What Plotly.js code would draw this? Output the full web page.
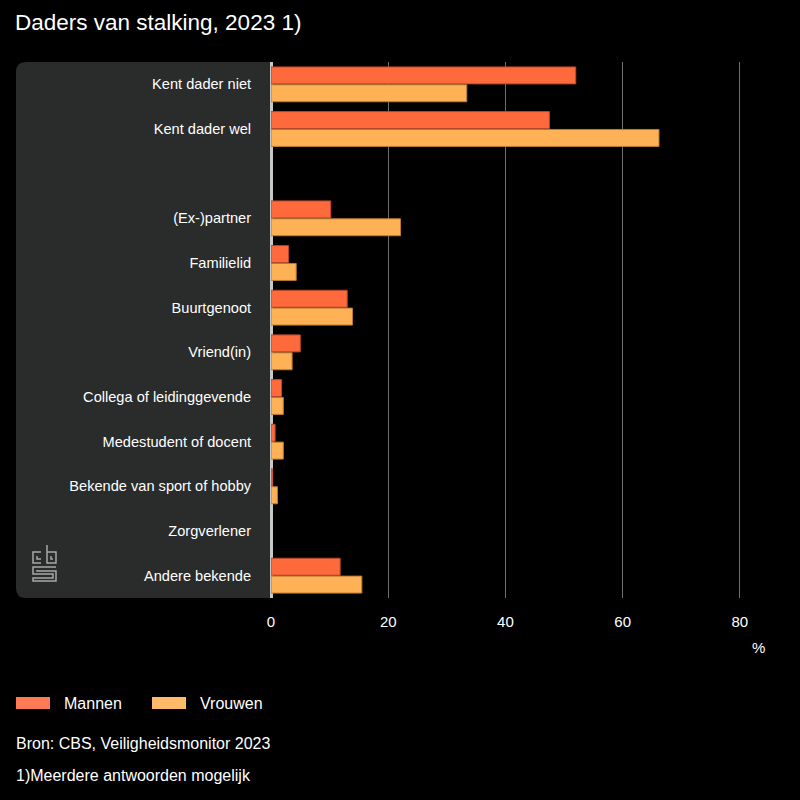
<!DOCTYPE html>
<html><head><meta charset="utf-8">
<script src="https://cdn.plot.ly/plotly-3.0.1.min.js"></script>
<style>html,body{margin:0;padding:0;background:#000;}</style>
</head><body>
<div id="chart" style="width:800px;height:800px;"></div>
<script>
const categories = ["Kent dader niet","Kent dader wel"," ","(Ex-)partner","Familielid","Buurtgenoot","Vriend(in)","Collega of leidinggevende","Medestudent of docent","Bekende van sport of hobby","Zorgverlener","Andere bekende"];
const mannen = [52.0, 47.5, null, 10.2, 3.0, 13.0, 5.0, 1.8, 0.7, 0.3, 0, 11.8];
const vrouwen = [33.4, 66.2, null, 22.1, 4.3, 13.9, 3.6, 2.1, 2.1, 1.1, 0, 15.5];
const seriesNames = ["Mannen","Vrouwen"];
const xTicks = [0, 20, 40, 60, 80];

const W = 800, H = 800, ML = 271, MR = 15, MT = 62, MB = 202;
const PW = W - ML - MR, PH = H - MT - MB;
const px = x => (x - ML) / PW;
const py = y => (H - MB - y) / PH;

function roundRectPath(x0, y0, x1, y1, r) {
  const P = (x, y) => px(x).toFixed(5) + "," + py(y).toFixed(5);
  return "M" + P(x0 + r, y0) + " L" + P(x1, y0) + " L" + P(x1, y1) + " L" + P(x0 + r, y1) +
    " Q" + P(x0, y1) + " " + P(x0, y1 - r) + " L" + P(x0, y0 + r) + " Q" + P(x0, y0) + " " + P(x0 + r, y0) + " Z";
}
function linePath(pts) {
  return pts.map((p, i) => (i ? "L" : "M") + px(p[0]).toFixed(5) + "," + py(p[1]).toFixed(5)).join(" ");
}

const colM = "#ff6a3d", colV = "#ffb156";
const traces = [
  {type: "bar", orientation: "h", name: seriesNames[0], y: categories, x: mannen,
   marker: {color: colM, line: {color: "#b8472a", width: mannen.map(v => v ? 1 : 0)}}, hoverinfo: "x+y", showlegend: false},
  {type: "bar", orientation: "h", name: seriesNames[1], y: categories, x: vrouwen,
   marker: {color: colV, line: {color: "#b97a35", width: vrouwen.map(v => v ? 1 : 0)}}, hoverinfo: "x+y", showlegend: false}
];

const font = "Liberation Sans, Arial, sans-serif";
const shapes = [
  {type: "path", xref: "paper", yref: "paper", layer: "below", path: roundRectPath(16, 62, 270, 598, 10),
   fillcolor: "#2a2b2b", line: {width: 0}},
  // legend swatches
  {type: "rect", xref: "paper", yref: "paper", x0: px(16), x1: px(50), y0: py(697), y1: py(709),
   fillcolor: "#ff7b55", line: {width: 0}},
  {type: "rect", xref: "paper", yref: "paper", x0: px(152), x1: px(186), y0: py(697), y1: py(709),
   fillcolor: "#ffbb6a", line: {width: 0}},
  // cbs logo (approximation)
  {type: "path", xref: "paper", yref: "paper", line: {color: "#a8a8a8", width: 1.5},
   path: linePath([[41, 552], [33, 552], [33, 563], [41, 563]])},
  {type: "path", xref: "paper", yref: "paper", line: {color: "#a8a8a8", width: 1.5},
   path: linePath([[37, 556], [37, 559], [41, 559]])},
  {type: "path", xref: "paper", yref: "paper", line: {color: "#a8a8a8", width: 1.5},
   path: linePath([[47, 545], [47, 563], [56, 563], [56, 552], [47, 552]])},
  {type: "path", xref: "paper", yref: "paper", line: {color: "#a8a8a8", width: 1.5},
   path: linePath([[51, 556], [51, 559], [53, 559]])},
  {type: "path", xref: "paper", yref: "paper", line: {color: "#a8a8a8", width: 1.5},
   path: linePath([[56, 567], [33, 567], [33, 574], [53, 574], [53, 578], [33, 578], [33, 581], [56, 581], [56, 571], [37, 571], [37, 570]])}
];

const annotations = [
  {text: "%", xref: "paper", yref: "paper", x: px(758), y: py(647), xanchor: "center", yanchor: "middle",
   showarrow: false, font: {family: font, size: 15, color: "#ffffff"}},
  {text: "Mannen", xref: "paper", yref: "paper", x: px(62), y: py(703), xanchor: "left", yanchor: "middle",
   showarrow: false, font: {family: font, size: 16, color: "#ffffff"}},
  {text: "Vrouwen", xref: "paper", yref: "paper", x: px(198), y: py(703), xanchor: "left", yanchor: "middle",
   showarrow: false, font: {family: font, size: 16, color: "#ffffff"}},
  {text: "Bron: CBS, Veiligheidsmonitor 2023", xref: "paper", yref: "paper", x: px(14), y: py(743), xanchor: "left", yanchor: "middle",
   showarrow: false, font: {family: font, size: 16, color: "#ffffff"}},
  {text: "1)Meerdere antwoorden mogelijk", xref: "paper", yref: "paper", x: px(14), y: py(775), xanchor: "left", yanchor: "middle",
   showarrow: false, font: {family: font, size: 16, color: "#ffffff"}}
];

const layout = {
  width: W, height: H,
  paper_bgcolor: "#000000", plot_bgcolor: "rgba(0,0,0,0)",
  margin: {l: ML, r: MR, t: MT, b: MB},
  title: {text: "Daders van stalking, 2023 1)", x: 15 / W, xanchor: "left", xref: "container",
          y: 1 - 22 / H, yanchor: "middle", yref: "container", font: {family: font, size: 22.5, color: "#ffffff"}},
  barmode: "group", bargap: 0.2, bargroupgap: 0.05,
  showlegend: false,
  xaxis: {range: [0, 87.7], tickvals: xTicks, ticktext: xTicks.map(String), showgrid: true, gridcolor: "#6e6e6e", gridwidth: 1,
          zeroline: true, zerolinecolor: "#c8c8c8", zerolinewidth: 3, showline: false,
          ticks: "outside", ticklen: 10, tickcolor: "rgba(0,0,0,0)",
          tickfont: {family: font, size: 15, color: "#ffffff"}, fixedrange: true},
  yaxis: {type: "category", autorange: "reversed", categoryorder: "array", categoryarray: categories,
          showgrid: false, zeroline: false, showline: false, ticks: "outside", ticklen: 16, tickcolor: "rgba(0,0,0,0)",
          tickfont: {family: font, size: 14.6, color: "#ffffff"}, fixedrange: true},
  shapes: shapes,
  annotations: annotations
};

Plotly.newPlot("chart", traces, layout, {displayModeBar: false, staticPlot: true});
</script>
</body></html>
